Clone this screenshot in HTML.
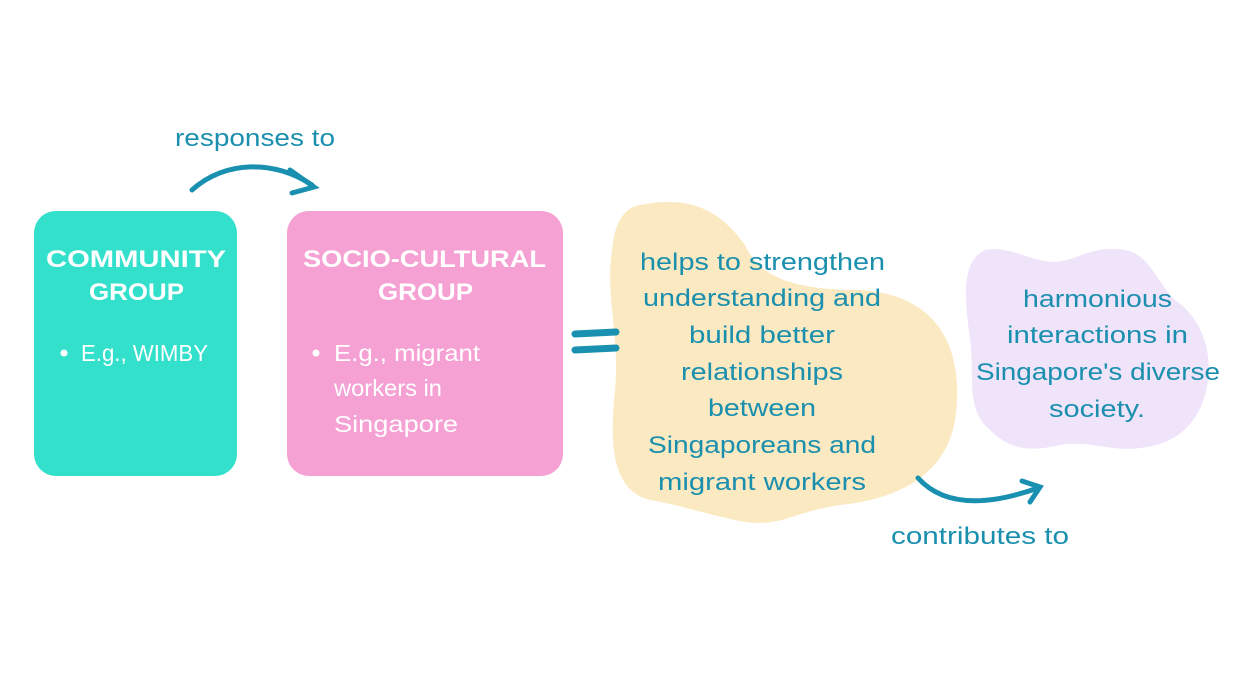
<!DOCTYPE html>
<html><head><meta charset="utf-8"><style>
body{margin:0;width:1236px;height:696px;background:#fff;overflow:hidden;font-family:"Liberation Sans",sans-serif}
svg{position:absolute;left:0;top:0}
</style></head><body>
<svg width="1236" height="696" viewBox="0 0 1236 696">
<rect x="34" y="211" width="203" height="265" rx="22" fill="#33e0cc"/>
<rect x="287" y="211" width="276" height="265" rx="22" fill="#f5a1d3"/>
<path d="M640 205 C690 195 720 210 745 245 C760 280 800 290 860 290 C940 295 965 350 955 420 C945 480 890 500 840 505 C790 512 780 530 735 520 C690 510 680 505 650 500 C610 490 610 440 615 390 C620 330 605 300 612 250 C615 220 625 208 640 205 Z" fill="#fbe9c1"/>
<path d="M985 250 C1010 245 1030 262 1055 262 C1080 260 1090 245 1125 250 C1150 255 1155 280 1175 300 C1205 320 1215 360 1205 395 C1195 430 1170 445 1140 448 C1110 452 1090 440 1060 445 C1030 452 1010 450 990 430 C965 410 975 375 970 340 C965 300 960 262 985 250 Z" fill="#efe4fa"/>
<g fill="none" stroke="#1a90b0" stroke-width="5" stroke-linecap="round">
<path d="M192 190 C225 160 275 160 312 185"/>
<path d="M290 170 L314 187 L292 193"/>
<path d="M918 478 C945 508 990 505 1038 488"/>
<path d="M1022 481 L1040 487 L1030 502"/>
<path d="M575 334 L616 332" stroke-width="7"/>
<path d="M575 350 L616 348" stroke-width="7"/>
</g>
<g fill="#1a8fae" font-size="24" lengthAdjust="spacingAndGlyphs">
<text x="175" y="146" textLength="160" lengthAdjust="spacingAndGlyphs">responses to</text>
<text x="891" y="544" textLength="178" lengthAdjust="spacingAndGlyphs">contributes to</text>
<text x="640" y="270" textLength="245" lengthAdjust="spacingAndGlyphs">helps to strengthen</text>
<text x="643" y="306" textLength="238" lengthAdjust="spacingAndGlyphs">understanding and</text>
<text x="689" y="343" textLength="146" lengthAdjust="spacingAndGlyphs">build better</text>
<text x="681" y="380" textLength="162" lengthAdjust="spacingAndGlyphs">relationships</text>
<text x="708" y="416" textLength="108" lengthAdjust="spacingAndGlyphs">between</text>
<text x="648" y="453" textLength="228" lengthAdjust="spacingAndGlyphs">Singaporeans and</text>
<text x="658" y="490" textLength="208" lengthAdjust="spacingAndGlyphs">migrant workers</text>
<text x="1023" y="307" textLength="149" lengthAdjust="spacingAndGlyphs">harmonious</text>
<text x="1007" y="343" textLength="181" lengthAdjust="spacingAndGlyphs">interactions in</text>
<text x="976" y="380" textLength="244" lengthAdjust="spacingAndGlyphs">Singapore's diverse</text>
<text x="1049" y="417" textLength="96" lengthAdjust="spacingAndGlyphs">society.</text>
</g>
<g fill="#fff" font-size="24" font-weight="bold">
<text x="46" y="267" textLength="180" lengthAdjust="spacingAndGlyphs">COMMUNITY</text>
<text x="89" y="300" textLength="95" lengthAdjust="spacingAndGlyphs">GROUP</text>
<text x="303" y="267" textLength="243" lengthAdjust="spacingAndGlyphs">SOCIO-CULTURAL</text>
<text x="378" y="300" textLength="95" lengthAdjust="spacingAndGlyphs">GROUP</text>
</g>
<g fill="#fff" font-size="23">
<circle cx="64" cy="353" r="3.5"/>
<text x="81" y="361" textLength="127" lengthAdjust="spacingAndGlyphs">E.g., WIMBY</text>
<circle cx="316" cy="353" r="3.5"/>
<text x="334" y="361" textLength="146" lengthAdjust="spacingAndGlyphs">E.g., migrant</text>
<text x="334" y="396" textLength="108" lengthAdjust="spacingAndGlyphs">workers in</text>
<text x="334" y="432" textLength="124" lengthAdjust="spacingAndGlyphs">Singapore</text>
</g>
</svg>
</body></html>
